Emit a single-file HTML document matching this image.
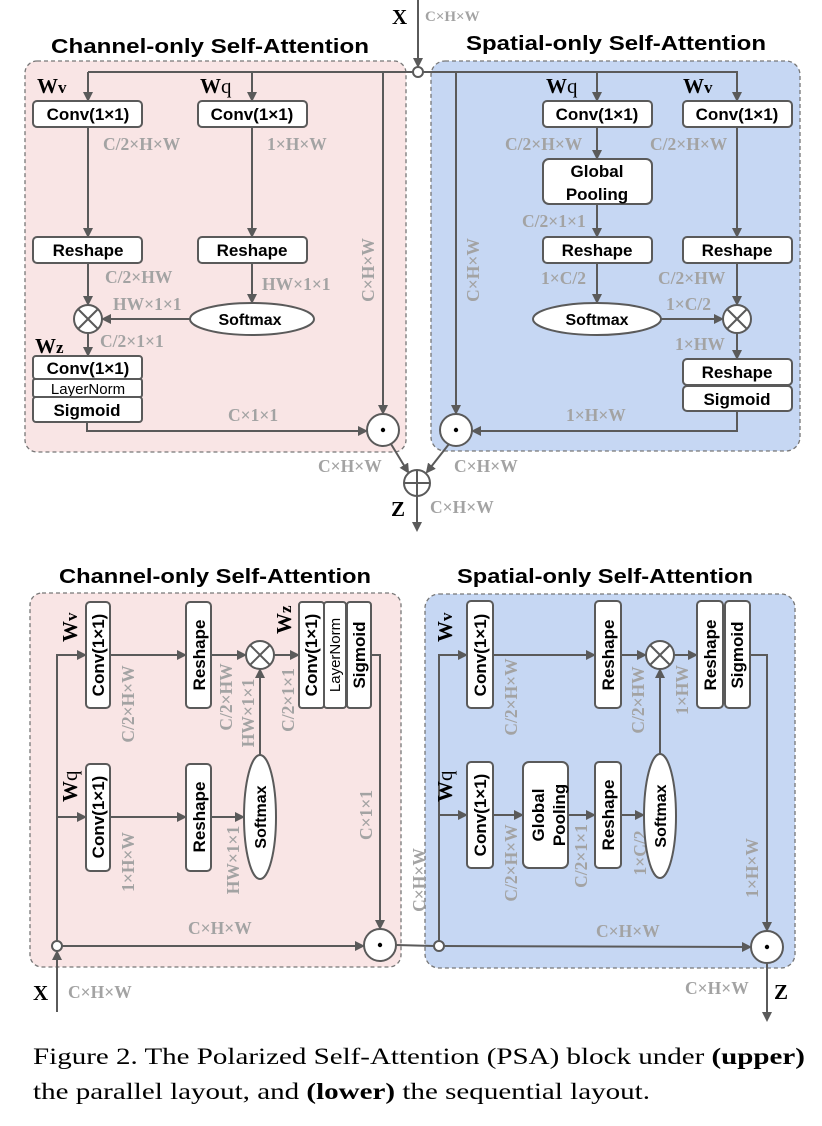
<!DOCTYPE html>
<html><head><meta charset="utf-8"><style>
html,body{margin:0;padding:0;background:#fff;}
svg{display:block;}
.t{font-family:"Liberation Sans",sans-serif;font-weight:bold;font-size:20px;fill:#000;}
.b{font-family:"Liberation Sans",sans-serif;font-weight:bold;font-size:17px;fill:#000;}
.g{font-family:"Liberation Serif",serif;font-weight:bold;font-size:17.5px;fill:#a3a3a3;}
.w{font-family:"Liberation Serif",serif;font-weight:bold;font-size:21px;fill:#000;}
.ws{font-family:"Liberation Serif",serif;font-size:17px;fill:#000;}
.cap{font-family:"Liberation Serif",serif;font-size:23px;fill:#000;}
.ln{stroke:#5a5a5a;stroke-width:2;fill:none;}
.bx{stroke:#5a5a5a;stroke-width:2;fill:#fff;}
</style></head><body>
<svg width="822" height="1126" viewBox="0 0 822 1126" xmlns="http://www.w3.org/2000/svg">
<defs>
<marker id="a" markerWidth="10" markerHeight="10" refX="8" refY="5" orient="auto" markerUnits="userSpaceOnUse">
<path d="M0,0 L10,5 L0,10 z" fill="#5a5a5a"/></marker>
</defs>

<!-- ================= UPPER ================= -->
<text class="t" x="210" y="53" text-anchor="middle" textLength="318" lengthAdjust="spacingAndGlyphs">Channel-only Self-Attention</text>
<text class="t" x="616" y="50" text-anchor="middle" textLength="300" lengthAdjust="spacingAndGlyphs">Spatial-only Self-Attention</text>

<rect x="25" y="61" width="381" height="391" rx="12" fill="#f9e5e5" stroke="#777" stroke-width="1.3" stroke-dasharray="4,3"/>
<rect x="431" y="61" width="369" height="390" rx="14" fill="#c6d7f3" stroke="#777" stroke-width="1.3" stroke-dasharray="4,3"/>

<text class="w" x="392" y="24">X</text>
<text class="g" x="425" y="21" style="font-size:15px">C×H×W</text>
<line class="ln" x1="418" y1="0" x2="418" y2="66" marker-end="url(#a)"/>
<line class="ln" x1="88" y1="72" x2="413" y2="72"/>
<line class="ln" x1="423" y1="72" x2="738" y2="72"/>
<circle cx="418" cy="72" r="5" fill="#fff" stroke="#5a5a5a" stroke-width="2"/>

<!-- left branch -->
<line class="ln" x1="88" y1="72" x2="88" y2="100" marker-end="url(#a)"/>
<line class="ln" x1="252" y1="72" x2="252" y2="100" marker-end="url(#a)"/>
<text class="w" x="37" y="93">W<tspan class="ws">v</tspan></text>
<text class="w" x="200" y="93">W<tspan style="font-weight:normal">q</tspan></text>
<rect class="bx" x="33" y="101" width="109" height="26" rx="4"/>
<text class="b" x="88" y="120" text-anchor="middle">Conv(1×1)</text>
<rect class="bx" x="198" y="101" width="109" height="26" rx="4"/>
<text class="b" x="252" y="120" text-anchor="middle">Conv(1×1)</text>
<text class="g" x="103" y="150">C/2×H×W</text>
<text class="g" x="267" y="150">1×H×W</text>
<line class="ln" x1="88" y1="127" x2="88" y2="236" marker-end="url(#a)"/>
<line class="ln" x1="252" y1="127" x2="252" y2="236" marker-end="url(#a)"/>
<rect class="bx" x="33" y="237" width="109" height="26" rx="4"/>
<text class="b" x="88" y="256" text-anchor="middle">Reshape</text>
<rect class="bx" x="198" y="237" width="109" height="26" rx="4"/>
<text class="b" x="252" y="256" text-anchor="middle">Reshape</text>
<text class="g" x="105" y="283">C/2×HW</text>
<text class="g" x="262" y="290">HW×1×1</text>
<text class="g" x="113" y="310">HW×1×1</text>
<line class="ln" x1="88" y1="263" x2="88" y2="304" marker-end="url(#a)"/>
<line class="ln" x1="252" y1="263" x2="252" y2="302" marker-end="url(#a)"/>
<ellipse class="bx" cx="252" cy="319" rx="62" ry="16"/>
<text class="b" x="250" y="325" text-anchor="middle" style="font-size:16px">Softmax</text>
<line class="ln" x1="190" y1="319" x2="103" y2="319" marker-end="url(#a)"/>
<circle class="bx" cx="88" cy="319" r="14"/>
<line class="ln" x1="78" y1="309" x2="98" y2="329"/><line class="ln" x1="98" y1="309" x2="78" y2="329"/>
<text class="g" x="100" y="347">C/2×1×1</text>
<text class="w" x="35" y="353">W<tspan class="ws">z</tspan></text>
<line class="ln" x1="88" y1="333" x2="88" y2="355" marker-end="url(#a)"/>
<rect class="bx" x="33" y="356" width="109" height="23" rx="3"/>
<text class="b" x="88" y="374" text-anchor="middle">Conv(1×1)</text>
<rect class="bx" x="33" y="379" width="109" height="18" rx="2"/>
<text class="b" x="88" y="394" text-anchor="middle" style="font-weight:normal;font-size:15px">LayerNorm</text>
<rect class="bx" x="33" y="397" width="109" height="25" rx="3"/>
<text class="b" x="87" y="416" text-anchor="middle">Sigmoid</text>
<polyline class="ln" points="87,422 87,431 366,431" marker-end="url(#a)"/>
<text class="g" x="228" y="421">C×1×1</text>
<line class="ln" x1="383" y1="72" x2="383" y2="413" marker-end="url(#a)"/>
<text class="g" transform="translate(374,270) rotate(-90)" text-anchor="middle">C×H×W</text>
<circle class="bx" cx="383" cy="430" r="16"/><circle cx="383" cy="430" r="2.2" fill="#000"/>

<!-- right branch -->
<line class="ln" x1="597" y1="72" x2="597" y2="100" marker-end="url(#a)"/>
<line class="ln" x1="737" y1="72" x2="737" y2="100" marker-end="url(#a)"/>
<text class="w" x="546" y="93">W<tspan style="font-weight:normal">q</tspan></text>
<text class="w" x="683" y="93">W<tspan class="ws">v</tspan></text>
<rect class="bx" x="543" y="101" width="109" height="26" rx="4"/>
<text class="b" x="597" y="120" text-anchor="middle">Conv(1×1)</text>
<rect class="bx" x="683" y="101" width="109" height="26" rx="4"/>
<text class="b" x="737" y="120" text-anchor="middle">Conv(1×1)</text>
<text class="g" x="505" y="150">C/2×H×W</text>
<text class="g" x="650" y="150">C/2×H×W</text>
<line class="ln" x1="597" y1="127" x2="597" y2="158" marker-end="url(#a)"/>
<rect class="bx" x="543" y="159" width="109" height="45" rx="6"/>
<text class="b" x="597" y="177" text-anchor="middle">Global</text>
<text class="b" x="597" y="200" text-anchor="middle">Pooling</text>
<text class="g" x="522" y="227">C/2×1×1</text>
<line class="ln" x1="597" y1="204" x2="597" y2="236" marker-end="url(#a)"/>
<line class="ln" x1="737" y1="127" x2="737" y2="236" marker-end="url(#a)"/>
<rect class="bx" x="543" y="237" width="109" height="26" rx="4"/>
<text class="b" x="597" y="256" text-anchor="middle">Reshape</text>
<rect class="bx" x="683" y="237" width="109" height="26" rx="4"/>
<text class="b" x="737" y="256" text-anchor="middle">Reshape</text>
<text class="g" x="541" y="284">1×C/2</text>
<text class="g" x="658" y="284">C/2×HW</text>
<line class="ln" x1="597" y1="263" x2="597" y2="302" marker-end="url(#a)"/>
<line class="ln" x1="737" y1="263" x2="737" y2="304" marker-end="url(#a)"/>
<ellipse class="bx" cx="597" cy="319" rx="64" ry="16"/>
<text class="b" x="597" y="325" text-anchor="middle" style="font-size:16px">Softmax</text>
<text class="g" x="666" y="310">1×C/2</text>
<line class="ln" x1="661" y1="319" x2="722" y2="319" marker-end="url(#a)"/>
<circle class="bx" cx="737" cy="319" r="14"/>
<line class="ln" x1="727" y1="309" x2="747" y2="329"/><line class="ln" x1="747" y1="309" x2="727" y2="329"/>
<text class="g" x="675" y="350">1×HW</text>
<line class="ln" x1="737" y1="333" x2="737" y2="358" marker-end="url(#a)"/>
<rect class="bx" x="683" y="359" width="109" height="26" rx="4"/>
<text class="b" x="737" y="378" text-anchor="middle">Reshape</text>
<rect class="bx" x="683" y="386" width="109" height="25" rx="4"/>
<text class="b" x="737" y="405" text-anchor="middle">Sigmoid</text>
<polyline class="ln" points="737,411 737,431 473,431" marker-end="url(#a)"/>
<text class="g" x="566" y="421">1×H×W</text>
<line class="ln" x1="456" y1="72" x2="456" y2="413" marker-end="url(#a)"/>
<text class="g" transform="translate(479,270) rotate(-90)" text-anchor="middle">C×H×W</text>
<circle class="bx" cx="456" cy="430" r="16"/><circle cx="456" cy="430" r="2.2" fill="#000"/>

<!-- merge -->
<line class="ln" x1="391" y1="444" x2="408" y2="472" marker-end="url(#a)"/>
<line class="ln" x1="449" y1="444" x2="427" y2="472" marker-end="url(#a)"/>
<text class="g" x="318" y="472">C×H×W</text>
<text class="g" x="454" y="472">C×H×W</text>
<circle class="bx" cx="417" cy="483" r="13"/>
<line class="ln" x1="404" y1="483" x2="430" y2="483"/><line class="ln" x1="417" y1="470" x2="417" y2="496"/>
<line class="ln" x1="417" y1="496" x2="417" y2="530" marker-end="url(#a)"/>
<text class="w" x="391" y="516">Z</text>
<text class="g" x="430" y="513">C×H×W</text>

<!-- ================= LOWER ================= -->
<text class="t" x="215" y="583" text-anchor="middle" textLength="312" lengthAdjust="spacingAndGlyphs">Channel-only Self-Attention</text>
<text class="t" x="605" y="583" text-anchor="middle" textLength="296" lengthAdjust="spacingAndGlyphs">Spatial-only Self-Attention</text>

<rect x="30" y="593" width="371" height="374" rx="12" fill="#f9e5e5" stroke="#777" stroke-width="1.3" stroke-dasharray="4,3"/>
<rect x="425" y="594" width="370" height="374" rx="14" fill="#c6d7f3" stroke="#777" stroke-width="1.3" stroke-dasharray="4,3"/>

<!-- lower left -->
<line class="ln" x1="57" y1="1012" x2="57" y2="952" marker-end="url(#a)"/>
<circle cx="57" cy="946" r="5" fill="#fff" stroke="#5a5a5a" stroke-width="2"/>
<text class="w" x="33" y="1000">X</text>
<text class="g" x="68" y="998">C×H×W</text>
<polyline class="ln" points="57,941 57,655 85,655" marker-end="url(#a)"/>
<line class="ln" x1="57" y1="817" x2="85" y2="817" marker-end="url(#a)"/>
<text class="w" transform="translate(77,642) rotate(-90)">W<tspan class="ws">v</tspan></text>
<text class="w" transform="translate(77,802) rotate(-90)">W<tspan style="font-weight:normal">q</tspan></text>
<rect class="bx" x="86" y="602" width="24" height="106" rx="4"/>
<text class="b" transform="translate(104,655) rotate(-90)" text-anchor="middle">Conv(1×1)</text>
<rect class="bx" x="86" y="764" width="24" height="107" rx="4"/>
<text class="b" transform="translate(104,817) rotate(-90)" text-anchor="middle">Conv(1×1)</text>
<line class="ln" x1="110" y1="655" x2="185" y2="655" marker-end="url(#a)"/>
<line class="ln" x1="110" y1="817" x2="185" y2="817" marker-end="url(#a)"/>
<text class="g" transform="translate(134,704) rotate(-90)" text-anchor="middle">C/2×H×W</text>
<text class="g" transform="translate(134,862) rotate(-90)" text-anchor="middle">1×H×W</text>
<rect class="bx" x="186" y="602" width="25" height="106" rx="4"/>
<text class="b" transform="translate(205,655) rotate(-90)" text-anchor="middle">Reshape</text>
<rect class="bx" x="186" y="764" width="25" height="107" rx="4"/>
<text class="b" transform="translate(205,817) rotate(-90)" text-anchor="middle">Reshape</text>
<line class="ln" x1="211" y1="655" x2="245" y2="655" marker-end="url(#a)"/>
<line class="ln" x1="211" y1="817" x2="243" y2="817" marker-end="url(#a)"/>
<text class="g" transform="translate(232,697) rotate(-90)" text-anchor="middle">C/2×HW</text>
<text class="g" transform="translate(254,713) rotate(-90)" text-anchor="middle">HW×1×1</text>
<text class="g" transform="translate(239,860) rotate(-90)" text-anchor="middle">HW×1×1</text>
<circle class="bx" cx="260" cy="655" r="14"/>
<line class="ln" x1="250" y1="645" x2="270" y2="665"/><line class="ln" x1="270" y1="645" x2="250" y2="665"/>
<ellipse class="bx" cx="260" cy="817" rx="16" ry="62"/>
<text class="b" transform="translate(266,817) rotate(-90)" text-anchor="middle" style="font-size:16px">Softmax</text>
<line class="ln" x1="260" y1="755" x2="260" y2="670" marker-end="url(#a)"/>
<line class="ln" x1="274" y1="655" x2="298" y2="655" marker-end="url(#a)"/>
<text class="w" transform="translate(291,634) rotate(-90)">W<tspan class="ws">z</tspan></text>
<text class="g" transform="translate(294,700) rotate(-90)" text-anchor="middle">C/2×1×1</text>
<rect class="bx" x="299" y="602" width="25" height="106" rx="3"/>
<text class="b" transform="translate(317,655) rotate(-90)" text-anchor="middle">Conv(1×1)</text>
<rect class="bx" x="324" y="602" width="22" height="106" rx="3"/>
<text class="b" transform="translate(340,655) rotate(-90)" text-anchor="middle" style="font-weight:normal;font-size:15px">LayerNorm</text>
<rect class="bx" x="347" y="602" width="24" height="106" rx="3"/>
<text class="b" transform="translate(365,655) rotate(-90)" text-anchor="middle">Sigmoid</text>
<polyline class="ln" points="371,655 380,655 380,928" marker-end="url(#a)"/>
<text class="g" transform="translate(372,815) rotate(-90)" text-anchor="middle">C×1×1</text>
<line class="ln" x1="62" y1="946" x2="363" y2="946" marker-end="url(#a)"/>
<text class="g" x="188" y="934">C×H×W</text>
<circle class="bx" cx="380" cy="945" r="16"/><circle cx="380" cy="945" r="2.2" fill="#000"/>
<line class="ln" x1="396" y1="945" x2="434" y2="946"/>
<text class="g" transform="translate(425,880) rotate(-90)" text-anchor="middle">C×H×W</text>

<!-- lower right -->
<circle cx="439" cy="946" r="5" fill="#fff" stroke="#5a5a5a" stroke-width="2"/>
<polyline class="ln" points="439,941 439,655 466,655" marker-end="url(#a)"/>
<line class="ln" x1="439" y1="815" x2="466" y2="815" marker-end="url(#a)"/>
<text class="w" transform="translate(452,642) rotate(-90)">W<tspan class="ws">v</tspan></text>
<text class="w" transform="translate(452,802) rotate(-90)">W<tspan style="font-weight:normal">q</tspan></text>
<rect class="bx" x="467" y="601" width="26" height="107" rx="4"/>
<text class="b" transform="translate(486,655) rotate(-90)" text-anchor="middle">Conv(1×1)</text>
<rect class="bx" x="467" y="762" width="26" height="106" rx="4"/>
<text class="b" transform="translate(486,815) rotate(-90)" text-anchor="middle">Conv(1×1)</text>
<line class="ln" x1="493" y1="655" x2="594" y2="655" marker-end="url(#a)"/>
<line class="ln" x1="493" y1="815" x2="522" y2="815" marker-end="url(#a)"/>
<text class="g" transform="translate(517,697) rotate(-90)" text-anchor="middle">C/2×H×W</text>
<text class="g" transform="translate(517,863) rotate(-90)" text-anchor="middle">C/2×H×W</text>
<rect class="bx" x="523" y="762" width="45" height="106" rx="6"/>
<text class="b" transform="translate(544,815) rotate(-90)" text-anchor="middle">Global</text>
<text class="b" transform="translate(565,815) rotate(-90)" text-anchor="middle">Pooling</text>
<line class="ln" x1="568" y1="815" x2="594" y2="815" marker-end="url(#a)"/>
<text class="g" transform="translate(587,856) rotate(-90)" text-anchor="middle">C/2×1×1</text>
<rect class="bx" x="595" y="601" width="26" height="107" rx="4"/>
<text class="b" transform="translate(614,655) rotate(-90)" text-anchor="middle">Reshape</text>
<rect class="bx" x="595" y="762" width="26" height="106" rx="4"/>
<text class="b" transform="translate(614,815) rotate(-90)" text-anchor="middle">Reshape</text>
<line class="ln" x1="621" y1="655" x2="645" y2="655" marker-end="url(#a)"/>
<line class="ln" x1="621" y1="815" x2="643" y2="815" marker-end="url(#a)"/>
<text class="g" transform="translate(644,700) rotate(-90)" text-anchor="middle">C/2×HW</text>
<text class="g" transform="translate(646,853) rotate(-90)" text-anchor="middle">1×C/2</text>
<circle class="bx" cx="660" cy="655" r="14"/>
<line class="ln" x1="650" y1="645" x2="670" y2="665"/><line class="ln" x1="670" y1="645" x2="650" y2="665"/>
<ellipse class="bx" cx="660" cy="816" rx="16" ry="62"/>
<text class="b" transform="translate(666,816) rotate(-90)" text-anchor="middle" style="font-size:16px">Softmax</text>
<line class="ln" x1="660" y1="754" x2="660" y2="670" marker-end="url(#a)"/>
<line class="ln" x1="674" y1="655" x2="696" y2="655" marker-end="url(#a)"/>
<text class="g" transform="translate(688,690) rotate(-90)" text-anchor="middle">1×HW</text>
<rect class="bx" x="697" y="601" width="26" height="107" rx="4"/>
<text class="b" transform="translate(716,655) rotate(-90)" text-anchor="middle">Reshape</text>
<rect class="bx" x="725" y="601" width="25" height="107" rx="4"/>
<text class="b" transform="translate(743,655) rotate(-90)" text-anchor="middle">Sigmoid</text>
<polyline class="ln" points="750,655 767,655 767,930" marker-end="url(#a)"/>
<text class="g" transform="translate(758,868) rotate(-90)" text-anchor="middle">1×H×W</text>
<line class="ln" x1="444" y1="946" x2="750" y2="947" marker-end="url(#a)"/>
<text class="g" x="596" y="937">C×H×W</text>
<circle class="bx" cx="767" cy="947" r="16"/><circle cx="767" cy="947" r="2.2" fill="#000"/>
<line class="ln" x1="767" y1="963" x2="767" y2="1020" marker-end="url(#a)"/>
<text class="w" x="774" y="999">Z</text>
<text class="g" x="685" y="994">C×H×W</text>

<!-- caption -->
<text class="cap" x="33" y="1064" textLength="772" lengthAdjust="spacingAndGlyphs">Figure 2. The Polarized Self-Attention (PSA) block under <tspan font-weight="bold">(upper)</tspan></text>
<text class="cap" x="33" y="1099" textLength="617" lengthAdjust="spacingAndGlyphs">the parallel layout, and <tspan font-weight="bold">(lower)</tspan> the sequential layout.</text>
</svg>
</body></html>
